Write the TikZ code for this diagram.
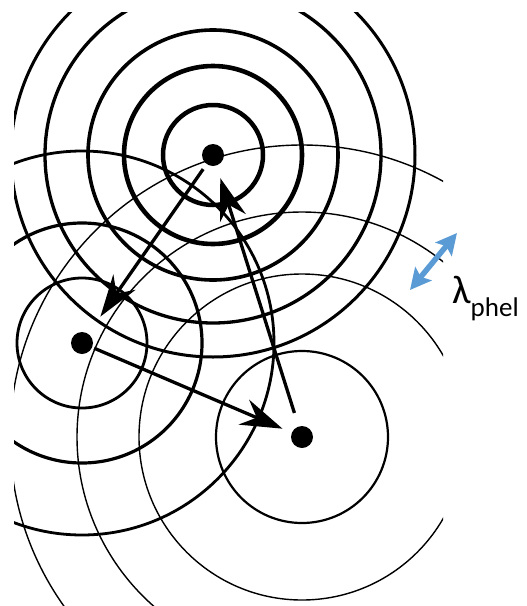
\documentclass[tikz,border=0pt]{standalone}
\usepackage{fontspec}
\newfontfamily\labelfont{Carlito}
\usetikzlibrary{arrows.meta}
\definecolor{wavelen}{HTML}{5B9BD5}

\begin{document}
\begin{tikzpicture}[x=1pt, y=-1pt, >=Stealth,
    source/.style={circle, fill=black, inner sep=0pt, minimum size=22pt},
    hop/.style={line width=3.3pt, -{Stealth[length=42pt, width=27pt, inset=14pt]}},
    span/.style={wavelen, line width=5.5pt, {Stealth[length=21pt, width=21pt, inset=4pt]}-{Stealth[length=21pt, width=21pt, inset=4pt]}}]
    \useasboundingbox (0,0) rectangle (527,606);

    % Scattering sites
    \node[source] (A) at (213,155) {};
    \node[source] (B) at (82,343) {};
    \node[source] (C) at (302,437) {};

    % Wave fronts
    \begin{scope}
        \clip (14,12) rectangle (443,606);
        \foreach \r/\w in {50/4.5, 89/4.6, 125/3.6, 168/3.3, 202/3}
            \draw[line width=\w pt] (A) circle (\r pt);
        \foreach \r/\w in {65/2.8, 120/3.2, 192/2.8}
            \draw[line width=\w pt] (B) circle (\r pt);
        \draw[line width=2.2pt] (C) circle (86pt);
        \foreach \r in {163, 225, 292}
            \draw[line width=1.4pt] (C) circle (\r pt);
    \end{scope}

    % Hops
    \draw[hop, shorten <=6pt, shorten >=21pt] (A) -- (B);
    \draw[hop, shorten <=2pt, shorten >=10pt] (B) -- (C);
    \draw[hop, shorten <=14pt, shorten >=13pt] (C) -- (A);

    % Wavelength
    \coordinate (lamlo) at (410,290);
    \coordinate (lamhi) at (457,233);
    \draw[span] (lamlo) -- (lamhi);
    \node[anchor=base west, inner sep=0pt] (lam) at (452,303)
        {\labelfont\fontsize{40}{48}\selectfont λ\raisebox{-13pt}{\fontsize{27}{30}\selectfont phel}};
\end{tikzpicture}
\end{document}
